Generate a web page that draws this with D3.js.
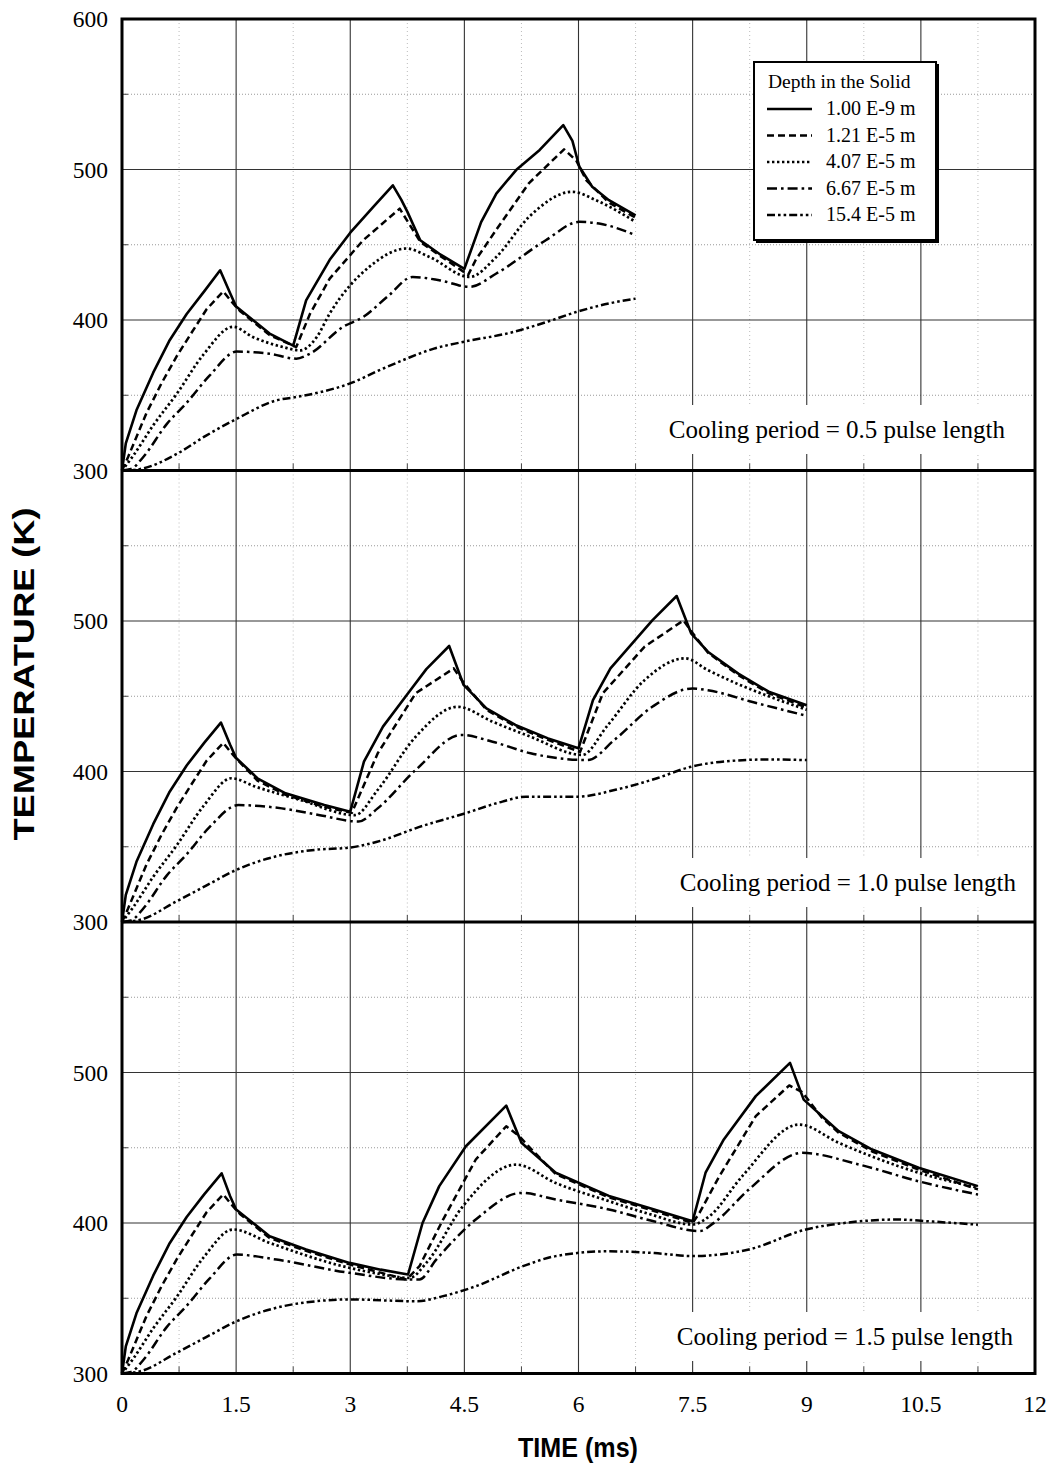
<!DOCTYPE html>
<html><head><meta charset="utf-8">
<script src="https://cdn.jsdelivr.net/npm/d3@7"></script>
<style>
body{margin:0;background:#fff;}
svg{display:block;}
</style></head>
<body>
<svg id="chart" width="1056" height="1470"></svg>
<script>
// ---------- DATA ----------
const seriesNames = ["1.00 E-9 m", "1.21 E-5 m", "4.07 E-5 m", "6.67 E-5 m", "15.4 E-5 m"];
const legendTitle = "Depth in the Solid";
const panelLabels = ["Cooling period = 0.5 pulse length", "Cooling period = 1.0 pulse length", "Cooling period = 1.5 pulse length"];
const xTicks = [0, 1.5, 3, 4.5, 6, 7.5, 9, 10.5, 12];
const xTickLabels = ["0", "1.5", "3", "4.5", "6", "7.5", "9", "10.5", "12"];
const yTicksPanel1 = [300, 400, 500, 600];
const yTicksPanel2 = [300, 400, 500];
const yTicksPanel3 = [300, 400, 500];
const xTitle = "TIME (ms)";
const yTitle = "TEMPERATURE (K)";

// Panel 1: cooling = 0.5 pulse length
const p1Solid = [[0,300],[0.05,318],[0.19,340],[0.41,365],[0.62,386],[0.85,404],[1.08,419],[1.29,433],[1.42,418],[1.5,409],[1.72,400],[1.94,391],[2.25,383],[2.42,413],[2.73,440],[3.0,458],[3.3,475],[3.56,489.5],[3.67,480],[3.75,472],[3.92,453],[4.17,444],[4.5,434],[4.72,465],[4.92,484],[5.18,499.6],[5.49,513],[5.8,529.5],[5.92,519],[6.01,502],[6.18,488.5],[6.4,479.6],[6.75,469.5]];
const p1Dash = [[0,300],[0.08,309],[0.32,338],[0.52,358],[0.72,376],[0.92,392],[1.11,407],[1.33,419],[1.46,411],[1.55,406],[1.72,399],[1.94,390],[2.29,382],[2.47,404],[2.73,427.5],[3.17,453],[3.65,474],[3.76,465],[3.92,452],[4.17,443],[4.55,430],[4.65,440],[4.92,460],[5.35,491],[5.81,513.4],[5.97,506],[6.1,493],[6.4,478],[6.75,468]];
const p1Dot = [[0,300],[0.15,310],[0.41,330],[0.72,351],[1.07,377],[1.46,395.5],[1.72,388.7],[2.12,382],[2.34,379.8],[2.56,388.7],[2.73,404.3],[3.25,435.3],[3.74,447.5],[4.04,441.9],[4.57,428.6],[4.92,441.9],[5.35,468.5],[5.92,485.2],[6.23,479.6],[6.75,465.2]];
const p1DashDot = [[0,300],[0.12,301],[0.28,309],[0.59,331],[0.85,345],[1.15,363],[1.51,379],[1.94,377.6],[2.29,374.3],[2.47,377.6],[2.9,395.3],[3.17,402],[3.5,416],[3.82,428.6],[4.17,426.4],[4.57,422],[4.92,430.9],[5.57,453],[6.01,465.2],[6.27,464.1],[6.75,456.4]];
const p1DashDotDot = [[0,300],[0.24,301],[0.72,311],[1.1,323],[1.51,334.4],[2.03,346.6],[2.29,348.8],[2.6,352],[2.99,357.7],[3.4,367],[3.74,374.3],[4.1,381],[4.48,385.4],[5.14,392],[5.6,399],[5.97,405.3],[6.4,411],[6.75,414.2]];

// Panel 2: cooling = 1.0 pulse length
const p2Solid = [[0,300],[0.05,318],[0.19,340],[0.41,365],[0.62,386],[0.85,404],[1.08,419],[1.3,432.5],[1.42,418],[1.5,409],[1.78,395.5],[2.15,385.5],[2.66,377.7],[3.0,373.3],[3.18,406.5],[3.43,429.8],[3.76,452],[4.0,468],[4.3,483.4],[4.49,457.5],[4.79,442],[5.17,430.9],[5.6,422],[6.0,415.4],[6.19,447.5],[6.42,468.5],[6.97,500.4],[7.29,516.6],[7.48,491.8],[7.7,479.6],[8.1,465],[8.5,453],[9.0,444]];
const p2Dash = [[0,300],[0.08,309],[0.32,338],[0.52,358],[0.72,376],[0.92,392],[1.11,407],[1.33,419],[1.46,411],[1.55,406],[1.78,394],[2.15,384.5],[2.66,376.5],[3.02,372.5],[3.36,412],[3.86,452],[4.36,468.5],[4.49,459],[4.79,441],[5.17,430],[5.6,421],[6.02,413],[6.32,452],[6.87,483],[7.38,500.4],[7.5,492],[7.7,479],[8.1,464],[8.5,452],[9.0,442.5]];
const p2Dot = [[0,300],[0.15,310],[0.41,330],[0.72,351],[1.07,377],[1.44,395.5],[1.75,390],[2.35,381],[3.06,371],[3.36,387.7],[3.86,423.1],[4.41,443],[4.87,433.1],[5.37,423.1],[6.05,411],[6.37,429.8],[6.87,460.8],[7.4,475.2],[7.7,467.4],[8.1,458],[8.5,450],[9.0,441]];
const p2DashDot = [[0,300],[0.12,301],[0.28,309],[0.59,331],[0.85,345],[1.15,363],[1.53,377.7],[2.1,375.5],[2.6,371],[3.11,366.7],[3.36,375.5],[3.86,401],[4.46,424.3],[4.87,419.8],[5.37,412.1],[6.12,407.6],[6.47,420.9],[6.97,443],[7.5,455.2],[7.7,454],[8.3,446],[9.0,437]];
const p2DashDotDot = [[0,300],[0.24,301.5],[0.72,313.8],[1.1,324],[1.51,334.8],[2.03,343.7],[2.55,348],[3.0,349.5],[3.4,354],[3.9,363],[4.51,372.2],[5.0,380],[5.31,383.3],[5.99,383.3],[6.5,388],[7.0,395],[7.48,403.2],[8.0,407],[8.5,408],[9.0,407.6]];

// Panel 3: cooling = 1.5 pulse length
const p3Solid = [[0,300],[0.05,318],[0.19,340],[0.41,365],[0.62,386],[0.85,404],[1.08,419],[1.31,433],[1.42,418],[1.5,409],[1.94,391.2],[2.42,382.4],[2.99,373.5],[3.4,369],[3.76,365.8],[3.95,400],[4.17,424.5],[4.52,451],[5.05,478],[5.25,453.3],[5.7,433.4],[6.4,418],[6.93,410],[7.5,401.2],[7.67,433.4],[7.91,455.5],[8.33,484.3],[8.78,506.4],[8.96,482],[9.42,461],[9.86,448.8],[10.47,436.7],[11.25,424.5]];
const p3Dash = [[0,300],[0.08,309],[0.32,338],[0.52,358],[0.72,376],[0.92,392],[1.11,407],[1.33,419],[1.46,411],[1.55,406],[1.94,390],[2.42,381.5],[2.99,372.5],[3.4,367],[3.74,362.5],[3.91,371.3],[4.22,402.3],[4.65,442.2],[5.05,464.3],[5.22,457.7],[5.4,448],[5.7,432.5],[6.4,417],[6.93,409],[7.5,400],[7.59,406.7],[7.85,431],[8.33,471],[8.77,491.4],[8.94,487],[9.2,470],[9.42,460],[9.86,447.5],[10.47,435.5],[11.25,422.3]];
const p3Dot = [[0,300],[0.15,310],[0.41,330],[0.72,351],[1.07,377],[1.46,395.7],[1.94,386.8],[2.9,371.3],[3.4,366],[3.78,363.5],[4.0,373.5],[4.48,411.1],[5.18,438.8],[5.7,426.6],[6.4,414.5],[6.93,406],[7.5,399],[7.72,404.5],[8.15,431],[8.9,465.4],[9.42,453.3],[10.47,433.4],[11.25,423.4]];
const p3DashDot = [[0,300],[0.12,301],[0.28,309],[0.59,331],[0.85,345],[1.15,363],[1.51,379],[2.03,375.7],[2.99,366.9],[3.78,362.5],[3.91,362.5],[4.13,375.7],[4.65,402.3],[5.25,420],[5.7,415.6],[6.4,409],[7.0,401],[7.59,394.6],[7.78,400.1],[8.24,422.3],[8.94,446.6],[9.69,438.8],[10.47,427.7],[11.25,418.9]];
const p3DashDotDot = [[0,300],[0.24,301.5],[0.72,313.8],[1.1,324],[1.51,334.8],[2.03,343.7],[2.55,348],[2.99,349.2],[3.87,348],[4.22,351.4],[4.65,358],[5.27,371.3],[5.7,378],[6.4,381.2],[7.0,380],[7.5,378],[8.24,382.4],[8.99,395.7],[9.51,400.1],[10.2,402.3],[10.64,401],[11.25,398.9]];

// ---------- LAYOUT / STYLE ----------
const svg = d3.select("#chart");
const X0 = 122, X1 = 1035;
const panelTops = [19, 470.5, 922];
const panelH = 451.5;
const serif = "'Liberation Serif','Times New Roman',serif";
const sans = "'Liberation Sans',Arial,Helvetica,sans-serif";

const styles = [
  {dash: null, w: 2.6, curve: d3.curveLinear},
  {dash: "7,4", w: 2.5, curve: d3.curveLinear},
  {dash: "2.4,2.6", w: 2.7, curve: d3.curveMonotoneX},
  {dash: "10,4,2.6,4", w: 2.5, curve: d3.curveMonotoneX},
  {dash: "8,3,2.6,3,2.6,3", w: 2.5, curve: d3.curveMonotoneX}
];

const x = d3.scaleLinear().domain([0, 12]).range([X0, X1]);

const panels = [
  {series: [p1Solid, p1Dash, p1Dot, p1DashDot, p1DashDotDot], yTicks: yTicksPanel1, label: panelLabels[0], labelX: 1005, labelY: 438},
  {series: [p2Solid, p2Dash, p2Dot, p2DashDot, p2DashDotDot], yTicks: yTicksPanel2, label: panelLabels[1], labelX: 1016, labelY: 891},
  {series: [p3Solid, p3Dash, p3Dot, p3DashDot, p3DashDotDot], yTicks: yTicksPanel3, label: panelLabels[2], labelX: 1013, labelY: 1345}
];

panels.forEach((p, i) => {
  const top = panelTops[i], bot = top + panelH;
  const y = d3.scaleLinear().domain([300, 600]).range([bot, top]);
  const g = svg.append("g");

  // minor dotted gridlines (vertical 0.75 odd multiples)
  const minorX = d3.range(0.75, 12, 1.5);
  g.selectAll(".mvx").data(minorX).enter().append("line")
    .attr("x1", d => x(d)).attr("x2", d => x(d)).attr("y1", top).attr("y2", bot)
    .attr("stroke", "#bbb").attr("stroke-width", 1).attr("stroke-dasharray", "1,3");
  // minor horizontal dotted
  const minorY = [350, 450, 550];
  g.selectAll(".mhy").data(minorY).enter().append("line")
    .attr("x1", X0).attr("x2", X1).attr("y1", d => y(d)).attr("y2", d => y(d))
    .attr("stroke", "#999").attr("stroke-width", 1).attr("stroke-dasharray", "1,2");
  // major gridlines
  const majorX = d3.range(1.5, 12, 1.5);
  g.selectAll(".gx").data(majorX).enter().append("line")
    .attr("x1", d => x(d)).attr("x2", d => x(d)).attr("y1", top).attr("y2", bot)
    .attr("stroke", "#333").attr("stroke-width", 1.1);
  g.selectAll(".gy").data([400, 500]).enter().append("line")
    .attr("x1", X0).attr("x2", X1).attr("y1", d => y(d)).attr("y2", d => y(d))
    .attr("stroke", "#333").attr("stroke-width", 1.1);

  // panel label with white background
  const lab = g.append("text").attr("x", p.labelX).attr("y", p.labelY)
    .attr("text-anchor", "end").attr("font-family", serif).attr("font-size", 25)
    .text(p.label);
  const bb = lab.node().getBBox();
  g.insert("rect", "text").attr("x", bb.x - 10).attr("y", p.labelY - 33)
    .attr("width", bb.width + 18).attr("height", 49).attr("fill", "#fff");

  // minor ticks at bottom and left
  g.selectAll(".mtx").data(minorX).enter().append("line")
    .attr("x1", d => x(d)).attr("x2", d => x(d)).attr("y1", bot).attr("y2", bot - 7)
    .attr("stroke", "#444").attr("stroke-width", 1);
  g.selectAll(".mty").data(minorY).enter().append("line")
    .attr("x1", X0).attr("x2", X0 + 6).attr("y1", d => y(d)).attr("y2", d => y(d))
    .attr("stroke", "#444").attr("stroke-width", 1);

  // y tick labels
  g.selectAll(".yl").data(p.yTicks).enter().append("text")
    .attr("x", 108).attr("y", d => y(d) + 8)
    .attr("text-anchor", "end").attr("font-family", serif).attr("font-size", 23.5)
    .text(d => d);

  // curves
  p.series.forEach((data, k) => {
    const st = styles[k];
    const line = d3.line().x(d => x(d[0])).y(d => y(d[1])).curve(st.curve);
    const path = g.append("path").datum(data).attr("d", line)
      .attr("fill", "none").attr("stroke", "#000").attr("stroke-width", st.w)
      .attr("stroke-linejoin", "round");
    if (st.dash) path.attr("stroke-dasharray", st.dash);
  });
});

// frame
const frame = svg.append("g").attr("stroke", "#000").attr("fill", "none");
frame.append("rect").attr("x", X0).attr("y", panelTops[0]).attr("width", X1 - X0).attr("height", panelTops[2] + panelH - panelTops[0]).attr("stroke-width", 3);
[panelTops[1], panelTops[2]].forEach(yy => {
  frame.append("line").attr("x1", X0).attr("x2", X1).attr("y1", yy).attr("y2", yy).attr("stroke-width", 3);
});

// x tick labels
svg.selectAll(".xl").data(xTicks).enter().append("text")
  .attr("x", d => x(d)).attr("y", 1412)
  .attr("text-anchor", "middle").attr("font-family", serif).attr("font-size", 23.5)
  .text((d, i) => xTickLabels[i]);

// axis titles
svg.append("text").attr("x", 578).attr("y", 1457).attr("text-anchor", "middle")
  .attr("font-family", sans).attr("font-weight", "bold").attr("font-size", 27)
  .attr("textLength", 120).attr("lengthAdjust", "spacingAndGlyphs")
  .text(xTitle);
svg.append("text").attr("transform", "translate(34,674) rotate(-90)").attr("text-anchor", "middle")
  .attr("font-family", sans).attr("font-weight", "bold").attr("font-size", 29)
  .attr("textLength", 333).attr("lengthAdjust", "spacingAndGlyphs")
  .text(yTitle);

// legend
const lg = svg.append("g");
lg.append("rect").attr("x", 756).attr("y", 64).attr("width", 183).attr("height", 179).attr("fill", "#000");
lg.append("rect").attr("x", 754).attr("y", 62).attr("width", 182).attr("height", 178)
  .attr("fill", "#fff").attr("stroke", "#000").attr("stroke-width", 2);
lg.append("text").attr("x", 768).attr("y", 88).attr("font-family", serif).attr("font-size", 19.5)
  .text(legendTitle);
seriesNames.forEach((name, k) => {
  const yy = 115 + k * 26.5;
  const st = styles[k];
  const l = lg.append("line").attr("x1", 767).attr("x2", 812).attr("y1", yy - 6).attr("y2", yy - 6)
    .attr("stroke", "#000").attr("stroke-width", st.w);
  if (st.dash) l.attr("stroke-dasharray", st.dash);
  lg.append("text").attr("x", 826).attr("y", yy).attr("font-family", serif).attr("font-size", 20)
    .text(name);
});
</script>
</body></html>
